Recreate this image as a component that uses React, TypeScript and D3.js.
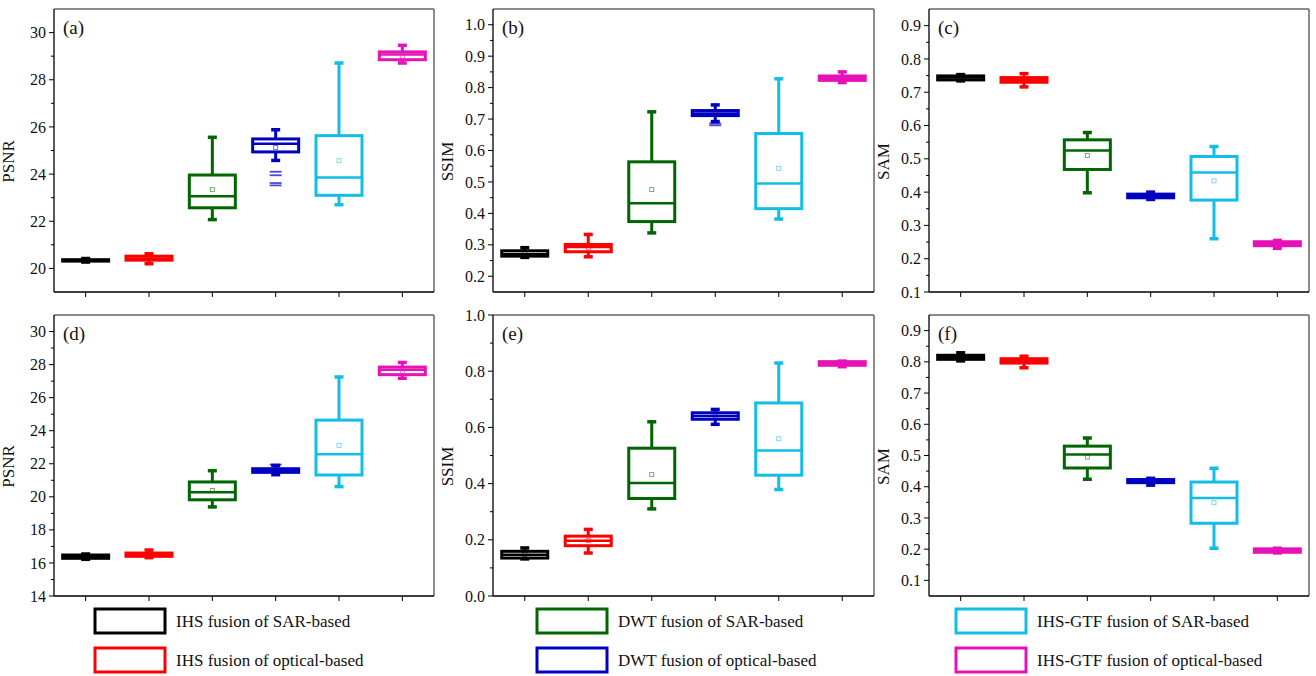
import React from 'react';
import * as d3 from 'd3';

// fusion methods (legend order) and their colours
const methods = [
  'IHS fusion of SAR-based',
  'IHS fusion of optical-based',
  'DWT fusion of SAR-based',
  'DWT fusion of optical-based',
  'IHS-GTF fusion of SAR-based',
  'IHS-GTF fusion of optical-based',
];
const colors = ['#000000', '#ff0000', '#006600', '#0000c0', '#12bde6', '#e612b8'];

const panelLabels = ['(a)', '(b)', '(c)', '(d)', '(e)', '(f)'];
const yTitles = ['PSNR', 'SSIM', 'SAM', 'PSNR', 'SSIM', 'SAM'];
const yDomains = [[19, 31], [0.15, 1.05], [0.1, 0.95], [14, 31], [0, 1], [0.05, 0.95]];
const yTickStart = [20, 0.2, 0.1, 14, 0, 0.1];
const yTickEnd = [30, 1.0, 0.9, 30, 1.0, 0.9];
const yTickStep = [2, 0.1, 0.1, 2, 0.2, 0.1];
const yDecimals = [0, 1, 1, 0, 1, 1];

// [min, q1, median, q3, max, mean] per method
const statsA = [
  [20.27, 20.31, 20.34, 20.37, 20.42, 20.34],
  [20.2, 20.35, 20.42, 20.52, 20.62, 20.42],
  [22.07, 22.57, 23.06, 23.96, 25.56, 23.34],
  [24.58, 24.94, 25.29, 25.49, 25.88, 25.13],
  [22.7, 23.1, 23.86, 25.63, 28.71, 24.57],
  [28.71, 28.85, 29.07, 29.18, 29.46, 29.0],
];
const statsB = [
  [0.26, 0.264, 0.27, 0.281, 0.291, 0.272],
  [0.262, 0.278, 0.293, 0.301, 0.333, 0.29],
  [0.338, 0.374, 0.432, 0.564, 0.723, 0.476],
  [0.692, 0.711, 0.718, 0.727, 0.745, 0.72],
  [0.382, 0.415, 0.495, 0.654, 0.828, 0.543],
  [0.816, 0.823, 0.83, 0.837, 0.85, 0.83],
];
const statsC = [
  [0.734, 0.737, 0.744, 0.749, 0.753, 0.744],
  [0.716, 0.73, 0.737, 0.744, 0.756, 0.737],
  [0.398, 0.468, 0.525, 0.557, 0.579, 0.51],
  [0.378, 0.383, 0.388, 0.394, 0.4, 0.388],
  [0.26, 0.376, 0.459, 0.507, 0.537, 0.434],
  [0.231, 0.239, 0.245, 0.251, 0.255, 0.244],
];
const statsD = [
  [16.22, 16.28, 16.38, 16.48, 16.54, 16.38],
  [16.32, 16.4, 16.5, 16.6, 16.78, 16.5],
  [19.39, 19.82, 20.28, 20.9, 21.58, 20.38],
  [21.34, 21.48, 21.6, 21.7, 21.9, 21.6],
  [20.62, 21.32, 22.57, 24.64, 27.25, 23.11],
  [27.17, 27.39, 27.69, 27.85, 28.13, 27.6],
];
const statsE = [
  [0.132, 0.135, 0.147, 0.159, 0.171, 0.148],
  [0.153, 0.179, 0.197, 0.213, 0.237, 0.197],
  [0.31, 0.347, 0.402, 0.526, 0.62, 0.432],
  [0.611, 0.629, 0.641, 0.652, 0.664, 0.641],
  [0.379, 0.43, 0.518, 0.687, 0.829, 0.56],
  [0.816, 0.821, 0.827, 0.834, 0.836, 0.827],
];
const statsF = [
  [0.803, 0.808, 0.815, 0.821, 0.829, 0.815],
  [0.781, 0.796, 0.803, 0.81, 0.818, 0.803],
  [0.424, 0.46, 0.503, 0.53, 0.556, 0.495],
  [0.405, 0.413, 0.418, 0.423, 0.427, 0.417],
  [0.203, 0.283, 0.364, 0.415, 0.459, 0.349],
  [0.188, 0.19, 0.195, 0.201, 0.203, 0.195],
];
const panelStats = [statsA, statsB, statsC, statsD, statsE, statsF];

// outliers: [panel, method, value]
const outliers = [
  [0, 3, 24.1], [0, 3, 23.95], [0, 3, 23.62], [0, 3, 23.52],
  [1, 3, 0.686], [1, 3, 0.68],
  [3, 3, 21.95],
];

const W = 1316;
const H = 676;
const colX = [[54, 434], [493, 874], [929, 1309]];
const rowY = [[9, 292], [315, 596]];
const font = '"Liberation Serif", "Times New Roman", serif';

function Panel({ idx }: { idx: number }) {
  const [x0, x1] = colX[idx % 3];
  const [y0, y1] = rowY[Math.floor(idx / 3)];
  const x = d3.scaleLinear().domain([0.5, 6.5]).range([x0, x1]);
  const y = d3.scaleLinear().domain(yDomains[idx]).range([y1, y0]);
  const step = yTickStep[idx];
  const majors = d3.range(yTickStart[idx], yTickEnd[idx] + step / 2, step);
  const [dlo, dhi] = yDomains[idx];
  const minors = d3.range(yTickStart[idx] - step * 2.5, yTickEnd[idx] + step, step)
    .filter((v) => v > dlo + 1e-9 && v < dhi - 1e-9)
    .filter((v) => !majors.some((m) => Math.abs(m - v) < 1e-9));
  const fmt = d3.format(`.${yDecimals[idx]}f`);
  const bw = 46;
  const cap = 9;
  const stats = panelStats[idx];

  return (
    <g>
      {/* frame */}
      <line x1={x0} x2={x1} y1={y0} y2={y0} stroke="#666" strokeWidth={1.5} />
      <line x1={x1} x2={x1} y1={y0} y2={y1} stroke="#666" strokeWidth={1.5} />
      <line x1={x0} x2={x0} y1={y0} y2={y1} stroke="#000" strokeWidth={1.3} />
      <line x1={x0} x2={x1} y1={y1} y2={y1} stroke="#000" strokeWidth={1.3} />

      {majors.map((v) => (
        <g key={'M' + v}>
          <line x1={x0 - 5} x2={x0} y1={y(v)} y2={y(v)} stroke="#000" strokeWidth={1} />
          <text x={x0 - 8} y={y(v)} dy="0.35em" textAnchor="end" fontSize={16} fontFamily={font} fill="#111">
            {fmt(v)}
          </text>
        </g>
      ))}
      {minors.map((v) => (
        <line key={'m' + v} x1={x0 - 3} x2={x0} y1={y(v)} y2={y(v)} stroke="#000" strokeWidth={1} />
      ))}
      {methods.map((_, i) => (
        <line key={'xt' + i} x1={x(i + 1)} x2={x(i + 1)} y1={y1} y2={y1 + 5} stroke="#000" strokeWidth={1} />
      ))}

      <text
        transform={`translate(${x0 - 40},${(y0 + y1) / 2 + 11}) rotate(-90)`}
        textAnchor="middle"
        fontSize={17}
        fontFamily={font}
        fill="#111"
      >
        {yTitles[idx]}
      </text>
      <text x={x0 + 9} y={y0 + 25} fontSize={19} fontFamily={font} fill="#111">
        {panelLabels[idx]}
      </text>

      {stats.map(([mn, q1, md, q3, mx, mean], i) => {
        const cx = x(i + 1);
        const c = colors[i];
        return (
          <g key={'box' + i}>
            <line x1={cx} x2={cx} y1={y(q3)} y2={y(mx)} stroke={c} strokeWidth={3} />
            <line x1={cx} x2={cx} y1={y(q1)} y2={y(mn)} stroke={c} strokeWidth={3} />
            <line x1={cx - cap / 2} x2={cx + cap / 2} y1={y(mx)} y2={y(mx)} stroke={c} strokeWidth={3.5} />
            <line x1={cx - cap / 2} x2={cx + cap / 2} y1={y(mn)} y2={y(mn)} stroke={c} strokeWidth={3.5} />
            <rect
              x={cx - bw / 2}
              y={y(q3)}
              width={bw}
              height={Math.max(0.1, y(q1) - y(q3))}
              fill="none"
              stroke={c}
              strokeWidth={3}
            />
            <line x1={cx - bw / 2} x2={cx + bw / 2} y1={y(md)} y2={y(md)} stroke={c} strokeWidth={2.5} />
            <rect x={cx - 2} y={y(mean) - 2} width={4} height={4} fill="none" stroke={c} strokeOpacity={0.6} strokeWidth={0.9} />
          </g>
        );
      })}

      {outliers
        .filter((o) => o[0] === idx)
        .map(([, m, v], k) => (
          <line
            key={'o' + k}
            x1={x(m + 1) - 6}
            x2={x(m + 1) + 6}
            y1={y(v)}
            y2={y(v)}
            stroke={colors[m]}
            strokeOpacity={0.7}
            strokeWidth={1.8}
          />
        ))}
    </g>
  );
}

// legend: three columns, two rows
const legendX = [95, 537, 956];
const legendY = [609, 648];

export default function App() {
  return (
    <svg
      width={W}
      height={H}
      style={{ position: 'absolute', left: 0, top: 0, background: '#fff' }}
    >
      {d3.range(6).map((i) => (
        <Panel key={i} idx={i} />
      ))}
      {methods.map((name, i) => {
        const lx = legendX[Math.floor(i / 2)];
        const ly = legendY[i % 2];
        return (
          <g key={name}>
            <rect x={lx} y={ly} width={70} height={24} fill="none" stroke={colors[i]} strokeWidth={3} />
            <text x={lx + 81} y={ly + 12} dy="0.35em" fontSize={17} fontFamily={font} fill="#111">
              {name}
            </text>
          </g>
        );
      })}
    </svg>
  );
}
